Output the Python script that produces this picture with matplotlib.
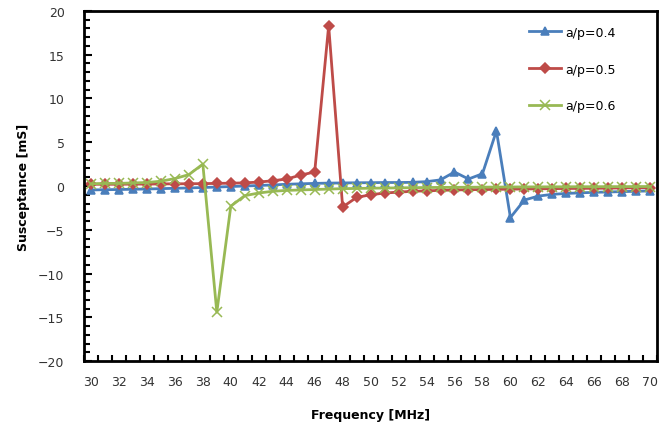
import matplotlib
matplotlib.use('Agg')
from matplotlib import pyplot as plt
from matplotlib.ticker import FixedLocator, MultipleLocator
import numpy as np

freq = list(range(30, 71))

ap04 = [-0.45, -0.42, -0.4, -0.37, -0.34, -0.3, -0.26, -0.22, -0.17, -0.12,
        -0.06, 0.0, 0.06, 0.12, 0.2, 0.25, 0.3, 0.33, 0.35, 0.37,
        0.38, 0.4, 0.4, 0.42, 0.5, 0.7, 1.6, 0.8, 1.4, 6.3,
        -3.6, -1.6, -1.15, -0.95, -0.85, -0.78, -0.72, -0.68, -0.64, -0.6, -0.56]

ap05 = [0.2, 0.2, 0.2, 0.22, 0.22, 0.24, 0.25, 0.26, 0.27, 0.3,
        0.32, 0.36, 0.45, 0.6, 0.8, 1.25, 1.6, 18.3, -2.4, -1.3,
        -1.0, -0.8, -0.7, -0.6, -0.55, -0.5, -0.45, -0.42, -0.4, -0.38,
        -0.36, -0.34, -0.32, -0.3, -0.28, -0.27, -0.26, -0.24, -0.22, -0.2, -0.18]

ap06 = [0.25, 0.3, 0.3, 0.35, 0.4, 0.55, 0.85, 1.3, 2.5, -14.4,
        -2.3, -1.1, -0.8, -0.6, -0.5, -0.45, -0.4, -0.35, -0.3, -0.28,
        -0.25, -0.23, -0.21, -0.19, -0.17, -0.16, -0.15, -0.14, -0.13, -0.12,
        -0.11, -0.1, -0.1, -0.09, -0.09, -0.08, -0.08, -0.07, -0.07, -0.06, -0.06]

series = [('a/p=0.4', ap04, '#4a7ebb', '^', 6),
          ('a/p=0.5', ap05, '#be4b48', 'D', 5.5),
          ('a/p=0.6', ap06, '#98b954', 'x', 6.5)]

fig = plt.figure(figsize=(6.72, 4.39), dpi=100)
ax = fig.add_axes([0.125, 0.175, 0.853, 0.798])

idx = np.arange(len(freq))
for label, vals, color, marker, ms in series:
    ax.plot(idx, vals, color=color, linewidth=2, marker=marker,
            markersize=ms, markeredgecolor=color, markeredgewidth=1.1, label=label)

ax.set_xlim(-0.5, len(freq) - 0.5)
ax.set_ylim(-20, 20)

ax.xaxis.set_major_locator(FixedLocator(idx[::2]))
ax.set_xticklabels([str(f) for f in freq[::2]])
ax.xaxis.set_minor_locator(FixedLocator(np.arange(-0.5, len(freq), 1)))
ax.tick_params(axis='x', which='major', length=0, pad=10, labelsize=9, labelcolor='#333333')
ax.tick_params(axis='x', which='minor', direction='in', length=4, width=1.5)

ax.yaxis.set_major_locator(MultipleLocator(5))
ax.yaxis.set_minor_locator(MultipleLocator(1))
ax.tick_params(axis='y', which='major', direction='in', length=6, width=1.5, pad=14,
               labelsize=9, labelcolor='#333333')
ax.tick_params(axis='y', which='minor', direction='in', length=4, width=1.5)

for s in ax.spines.values():
    s.set_linewidth(2)

ax.set_xlabel('Frequency [MHz]', fontsize=9, fontweight='bold', labelpad=14)
ax.set_ylabel('Susceptance [mS]', fontsize=9, fontweight='bold', labelpad=6)

ax.legend(loc='upper left', bbox_to_anchor=(0.765, 0.975), frameon=False,
          fontsize=9, labelspacing=1.9, handlelength=2.6, handletextpad=0.3,
          borderpad=0)

fig.savefig('out.png', dpi=100)
